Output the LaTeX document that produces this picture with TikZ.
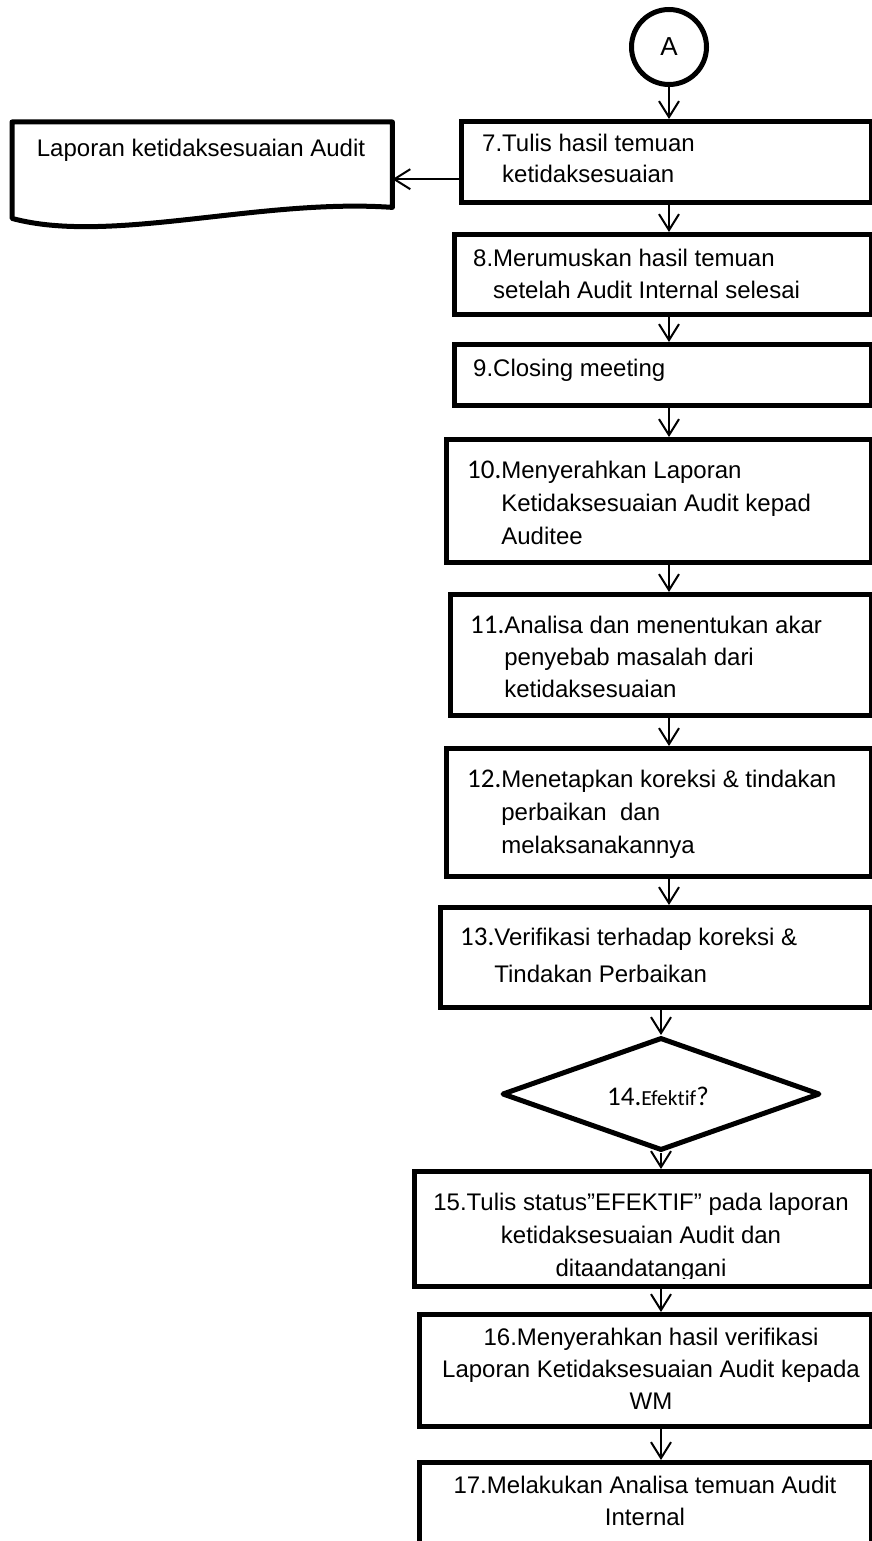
\documentclass[tikz,border=0pt]{standalone}
\usepackage{fontspec}
\setmainfont{Liberation Sans}
\newfontfamily\calib[Ligatures={NoCommon}]{Carlito}
\usetikzlibrary{arrows.meta,shapes.geometric,calc}

% number set in the larger Carlito face
\newcommand\cnum[1]{{\calib\fontsize{27}{27}\selectfont #1}}

\begin{document}
\begin{tikzpicture}[x=1pt,y=-1pt,
  stepbox/.style={draw, line width=5pt, rectangle, inner sep=0pt, anchor=north west},
  conn/.style={line width=2pt, -{Straight Barb[length=16pt,width=20pt]}},
  txt/.style={inner sep=0pt, anchor=base west, font=\fontsize{24}{33}\selectfont},
  ctxt/.style={inner sep=0pt, anchor=base, font=\fontsize{24}{33}\selectfont},
]
\useasboundingbox (0,0) rectangle (872,1541);
\clip (0,0) rectangle (872,1541);

% connector A
\node[draw, circle, line width=5pt, minimum size=75pt, inner sep=0pt,
      font=\fontsize{26}{26}\selectfont] (A) at (669,47) {A};

% process boxes
\node[stepbox, minimum width=410pt, minimum height=81pt]  (b7)  at (459,119)  {};
\node[stepbox, minimum width=417pt, minimum height=80pt]  (b8)  at (452,232)  {};
\node[stepbox, minimum width=417pt, minimum height=61pt]  (b9)  at (452,342)  {};
\node[stepbox, minimum width=425pt, minimum height=123pt] (b10) at (444,437)  {};
\node[stepbox, minimum width=421pt, minimum height=121pt] (b11) at (448,592)  {};
\node[stepbox, minimum width=425pt, minimum height=128pt] (b12) at (444,746)  {};
\node[stepbox, minimum width=431pt, minimum height=100pt] (b13) at (438,905)  {};
\node[draw, diamond, line width=5pt, line join=round, inner sep=0pt,
      minimum width=318pt, minimum height=113pt] (d14) at (661,1094) {};
\node[stepbox, minimum width=457pt, minimum height=115pt] (b15) at (412,1169) {};
\node[stepbox, minimum width=452pt, minimum height=112pt] (b16) at (417,1312) {};
\node[stepbox, minimum width=452pt, minimum height=140pt] (b17) at (417,1460) {};

% document symbol with wavy lower edge
\node[inner sep=0pt, anchor=north west, minimum width=380pt, minimum height=85pt] (doc) at (12,122) {};
\draw[line width=5pt, line join=round]
  ($(doc.south west)+(0,-74)$) -- (doc.north west) -- (doc.north east) -- (doc.south east)
  .. controls (260,198) and (110,245) .. ($(doc.south west)+(0,11)$) -- cycle;
\node[ctxt] (doctxt) at (201,157) {Laporan ketidaksesuaian Audit};

% texts
\node[txt, font=\fontsize{24}{31}\selectfont] (t7) at (482,152)
  {\begin{tabular}[t]{@{}l@{}l@{}}7.&Tulis hasil temuan\\&ketidaksesuaian\end{tabular}};
\node[txt, font=\fontsize{24}{32}\selectfont] (t8) at (473,266)
  {\begin{tabular}[t]{@{}l@{}l@{}}8.&Merumuskan hasil temuan\\&setelah Audit Internal selesai\end{tabular}};
\node[txt] (t9) at (473,376) {9.Closing meeting};
\node[txt] (t10) at (467,478)
  {\begin{tabular}[t]{@{}l@{}l@{}}\cnum{10.}&Menyerahkan Laporan\\&Ketidaksesuaian Audit kepad\\&Auditee\end{tabular}};
\node[txt, font=\fontsize{24}{32}\selectfont] (t11) at (470,633)
  {\begin{tabular}[t]{@{}l@{}l@{}}\cnum{11.}&Analisa dan menentukan akar\\&penyebab masalah dari\\&ketidaksesuaian\end{tabular}};
\node[txt] (t12) at (467,787)
  {\begin{tabular}[t]{@{}l@{}l@{}}\cnum{12.}&Menetapkan koreksi \& tindakan\\&perbaikan\ \ dan\\&melaksanakannya\end{tabular}};
\node[txt, font=\fontsize{24}{37}\selectfont] (t13) at (460,945)
  {\begin{tabular}[t]{@{}l@{}l@{}}\cnum{13.}&Verifikasi terhadap koreksi \&\\&Tindakan Perbaikan\end{tabular}};
\node[txt, font=\calib\fontsize{27}{27}\selectfont] (t14) at (607,1105)
  {14.{\fontsize{21.5}{21.5}\selectfont Efektif}?};
\begin{scope}
  \clip (b15.north west) rectangle ($(b15.south east)+(0,-11)$);
  \node[ctxt] (t15) at (641,1210)
    {\begin{tabular}[t]{@{}c@{}}15.Tulis status”EFEKTIF” pada laporan\\ketidaksesuaian Audit dan\\ditaandatangani\end{tabular}};
\end{scope}
\node[ctxt, font=\fontsize{24}{32}\selectfont] (t16) at (651,1345)
  {\begin{tabular}[t]{@{}c@{}}16.Menyerahkan hasil verifikasi\\Laporan Ketidaksesuaian Audit kepada\\WM\end{tabular}};
\node[ctxt, font=\fontsize{24}{32}\selectfont] (t17) at (645,1493)
  {\begin{tabular}[t]{@{}c@{}}17.Melakukan Analisa temuan Audit\\Internal\end{tabular}};

% connectors
\draw[conn] (A.south) -- (b7.north -| A.south);
\coordinate (c7) at ($(b7.south west)!0.3!(b7.north west)$);
\draw[conn] (c7) -- (c7 -| doc.east);
\draw[conn] (b7.south -| A) -- (b8.north -| A);
\draw[conn] (b8.south -| A) -- (b9.north -| A);
\draw[conn] (b9.south -| A) -- (b10.north -| A);
\draw[conn] (b10.south -| A) -- (b11.north -| A);
\draw[conn] (b11.south -| A) -- (b12.north -| A);
\draw[conn] (b12.south -| A) -- (b13.north -| A);
\draw[conn] (b13.south -| d14.north) -- (d14.north);
\draw[conn] (d14.south) -- (b15.north -| d14.south);
\draw[conn] (b15.south -| d14) -- (b16.north -| d14);
\draw[conn] (b16.south -| d14) -- (b17.north -| d14);
\end{tikzpicture}
\end{document}
